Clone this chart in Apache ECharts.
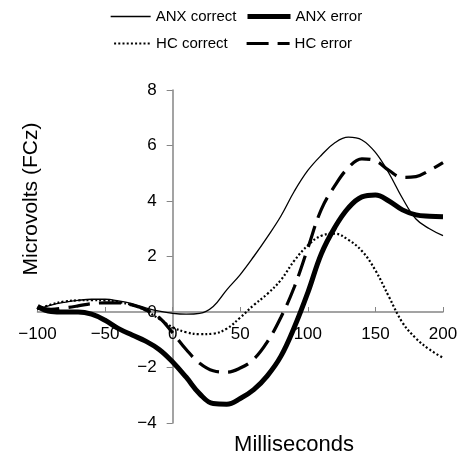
<!DOCTYPE html>
<html>
<head>
<meta charset="utf-8">
<script src="https://cdn.jsdelivr.net/npm/echarts@6/dist/echarts.min.js"></script>
<style>
html,body{margin:0;padding:0;background:#fff;}
#chart{width:461px;height:454px;}
</style>
</head>
<body>
<div id="chart"></div>
<script>
const seriesNames = ['ANX correct', 'ANX error', 'HC correct', 'HC error'];
const milliseconds = [-100,-90,-80,-70,-60,-50,-40,-30,-20,-10,0,10,20,30,40,50,60,70,80,90,100,110,120,130,140,150,160,170,180,190,200];
const anxCorrect = [0.1,0.25,0.35,0.42,0.46,0.46,0.4,0.3,0.15,0.03,-0.05,-0.08,-0.05,0.2,0.8,1.35,2.0,2.7,3.45,4.35,5.1,5.65,6.1,6.3,6.2,5.75,5.0,4.1,3.35,3.0,2.75];
const anxError = [0.2,0.02,0.0,0.0,-0.08,-0.3,-0.6,-0.83,-1.05,-1.35,-1.8,-2.35,-2.95,-3.3,-3.32,-3.12,-2.8,-2.3,-1.6,-0.55,0.7,2.1,3.05,3.75,4.15,4.22,4.0,3.68,3.5,3.45,3.43];
const hcCorrect = [0.1,0.27,0.38,0.42,0.43,0.42,0.36,0.25,0.05,-0.25,-0.55,-0.73,-0.8,-0.78,-0.6,-0.2,0.25,0.65,1.15,1.85,2.4,2.75,2.82,2.6,2.2,1.5,0.55,-0.38,-0.95,-1.35,-1.65];
const hcError = [0.15,0.1,0.15,0.22,0.3,0.33,0.33,0.25,0.08,-0.2,-0.75,-1.35,-1.85,-2.12,-2.17,-2.02,-1.7,-1.08,-0.2,0.9,2.3,3.7,4.55,5.2,5.52,5.45,5.1,4.85,4.88,5.1,5.38];
const xTicks = {min: -100, max: 200, interval: 50};
const yTicks = {min: -4, max: 8, interval: 2};
const xTitle = 'Milliseconds';
const yTitle = 'Microvolts (FCz)';

const FONT = '"Liberation Sans", Arial, sans-serif';
const pairs = arr => milliseconds.map((x, i) => [x, arr[i]]);
const minusFmt = v => String(v).replace('-', '\u2212');

const styles = {
  'ANX correct': {color: '#000', width: 1.3, type: 'solid'},
  'ANX error': {color: '#000', width: 5, type: 'solid'},
  'HC correct': {color: '#000', width: 2.2, type: [2, 2.2]},
  'HC error': {color: '#000', width: 3.2, type: [22, 9]}
};
const dataMap = {'ANX correct': anxCorrect, 'ANX error': anxError, 'HC correct': hcCorrect, 'HC error': hcError};

function mkLegend(name, left, top, w) {
  return {
    data: [name], left: left, top: top, padding: 0, itemWidth: w, itemHeight: 14, itemGap: 0,
    textStyle: {fontFamily: FONT, fontSize: 15, color: '#000'},
    itemStyle: {opacity: 0},
    lineStyle: {width: styles[name].width, type: styles[name].type, color: '#000'},
    selectedMode: false
  };
}

// pixel geometry of the grid: axes cross at (0, 0)
const grid = {left: 37.5, right: 18, top: 90, bottom: 31};
const plotW = 461 - grid.left - grid.right;
const plotH = 454 - grid.top - grid.bottom;
const yAxisShift = -plotW * (0 - xTicks.min) / (xTicks.max - xTicks.min);
const xAxisShift = -plotH * (0 - yTicks.min) / (yTicks.max - yTicks.min);

const chart = echarts.init(document.getElementById('chart'), null, {renderer: 'canvas'});
chart.setOption({
  animation: false,
  backgroundColor: '#fff',
  legend: [
    mkLegend('ANX correct', 110, 9, 40),
    mkLegend('ANX error', 245, 9, 43),
    mkLegend('HC correct', 113, 36, 37),
    mkLegend('HC error', 245, 36, 43)
  ],
  grid: grid,
  xAxis: {
    type: 'value', min: xTicks.min, max: xTicks.max, interval: xTicks.interval,
    position: 'bottom', offset: xAxisShift,
    axisLine: {onZero: false, lineStyle: {color: '#858585', width: 1.5}},
    axisTick: {show: true, inside: true, length: 5, lineStyle: {color: '#858585', width: 1}},
    splitLine: {show: false},
    axisLabel: {fontFamily: FONT, fontSize: 17, color: '#000', margin: 14, formatter: minusFmt}
  },
  yAxis: {
    type: 'value', min: yTicks.min, max: yTicks.max, interval: yTicks.interval,
    position: 'left', offset: yAxisShift,
    axisLine: {show: true, onZero: false, lineStyle: {color: '#858585', width: 1.5}},
    axisTick: {show: true, inside: false, length: 6, lineStyle: {color: '#858585', width: 1}},
    splitLine: {show: false},
    axisLabel: {fontFamily: FONT, fontSize: 17, color: '#000', margin: 16, formatter: minusFmt}
  },
  graphic: [
    {type: 'text', x: 31, y: 199, rotation: Math.PI / 2,
     style: {text: yTitle, fontFamily: FONT, fontSize: 21, fill: '#000', align: 'center', verticalAlign: 'middle'}},
    {type: 'text', x: 294, y: 445,
     style: {text: xTitle, fontFamily: FONT, fontSize: 22, fill: '#000', align: 'center', verticalAlign: 'middle'}}
  ],
  series: ['ANX correct', 'HC correct', 'HC error', 'ANX error'].map(n => ({
    name: n, type: 'line', data: pairs(dataMap[n]), smooth: 0.4, symbol: 'none',
    lineStyle: styles[n], itemStyle: {color: '#000'}
  }))
});
</script>
</body>
</html>
